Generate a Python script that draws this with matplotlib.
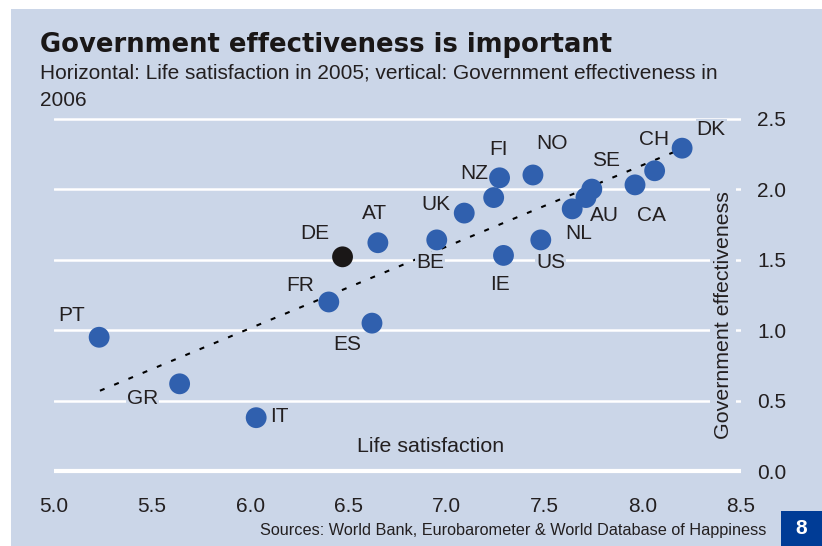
import matplotlib
matplotlib.use('Agg')
import matplotlib.pyplot as plt
from matplotlib.patches import Rectangle

# countries, life satisfaction 2005 (x) and govt effectiveness 2006 (y)
countries = ['PT', 'GR', 'IT', 'FR', 'ES', 'DE', 'AT', 'BE', 'UK', 'NZ',
             'FI', 'IE', 'NO', 'US', 'NL', 'AU', 'SE', 'CA', 'CH', 'DK']
life_sat = [5.23, 5.64, 6.03, 6.40, 6.62, 6.47, 6.65, 6.95, 7.09, 7.24,
            7.27, 7.29, 7.44, 7.48, 7.64, 7.71, 7.74, 7.96, 8.06, 8.20]
gov_eff = [0.95, 0.62, 0.38, 1.20, 1.05, 1.52, 1.62, 1.64, 1.83, 1.94,
           2.08, 1.53, 2.10, 1.64, 1.86, 1.94, 2.00, 2.03, 2.13, 2.29]
# label offsets in pixels (dx, dy)
offsets = [(-28, 22), (-37, -15), (23, 1), (-29, 16), (-25, -21), (-28, 23),
           (-3, 29), (-7, -23), (-28, 9), (-19, 24), (-1, 28), (-3, -29),
           (19, 31), (10, -23), (6, -25), (19, -18), (14, 29), (16, -31),
           (-1, 31), (29, 19)]
trend_x = [5.234, 8.18]
trend_y = [0.571, 2.275]
xticks = [5.0, 5.5, 6.0, 6.5, 7.0, 7.5, 8.0, 8.5]
yticks = [0.0, 0.5, 1.0, 1.5, 2.0, 2.5]

bg = '#cbd6e8'
blue = '#3060ae'
txt = '#231f20'
fs = 15
plt.rcParams['font.family'] = ['Liberation Sans', 'DejaVu Sans']

fig = plt.figure(figsize=(8.22, 5.46), dpi=100)
fig.patches.append(Rectangle((11 / 822, 0), 1, 1 - 9 / 546, transform=fig.transFigure,
                             facecolor=bg, edgecolor='none', zorder=-5))

# axes placed so that 5.0..8.5 spans px 54..741 and 0..2.5 spans px 471..118
ylo, yhi = -0.13, 2.7
ppu = 141.1
bot = (546 - (471.3 - ylo * ppu)) / 546
top = (546 - (471.3 - yhi * ppu)) / 546
ax = fig.add_axes([54 / 822, bot, 687 / 822, top - bot])
ax.set_zorder(1)
ax.set_facecolor('none')
ax.set_xlim(5.0, 8.5)
ax.set_ylim(ylo, yhi)
for s in ax.spines.values():
    s.set_visible(False)

for yt in yticks:
    ax.axhline(yt, color='white', lw=3 if yt == 0 else 1.8,
               solid_capstyle='round', zorder=1)

ax.plot(trend_x, trend_y, color='black', lw=1.5, linestyle=(0, (2.4, 5)), zorder=3)

colors = ['#1a1717' if c == 'DE' else blue for c in countries]
ax.scatter(life_sat, gov_eff, s=225, c=colors, edgecolors='none', zorder=4)

for c, x, y, (dx, dy) in zip(countries, life_sat, gov_eff, offsets):
    ax.annotate(c, (x, y), xytext=(dx * 0.72, dy * 0.72), textcoords='offset points',
                ha='center', va='center', fontsize=fs, color=txt, zorder=3.5,
                bbox=dict(boxstyle='square,pad=0.05', fc=bg, ec='none'))

ax.set_xticks(xticks)
ax.set_xticklabels([f'{v:.1f}' for v in xticks])
ax.set_yticks(yticks)
ax.set_yticklabels([f'{v:.1f}' for v in yticks])
ax.yaxis.tick_right()
ax.tick_params(axis='both', length=0, labelsize=fs, labelcolor=txt)
ax.tick_params(axis='x', pad=5)
ax.tick_params(axis='y', pad=11.5)
for lab in ax.get_yticklabels():
    lab.set_horizontalalignment('left')

ax.text(0.548, 1 - (446 - 90.3) / (top - bot) / 546, 'Life satisfaction',
        transform=ax.transAxes, ha='center', va='center', fontsize=15.4, color=txt)
ax.text((723 - 54) / 687, 1 - (315 - 90.3) / (top - bot) / 546, 'Government effectiveness',
        transform=ax.transAxes, ha='center', va='center', rotation=90, fontsize=15.4,
        color=txt, zorder=5, bbox=dict(boxstyle='square,pad=0.15', fc=bg, ec='none'))

fig.text(40 / 822, 1 - 45 / 546, 'Government effectiveness is important', ha='left',
         va='center', fontsize=18.6, fontweight='bold', color='#1a1717',
         family='DejaVu Sans')
fig.text(40 / 822, 1 - 73 / 546,
         'Horizontal: Life satisfaction in 2005; vertical: Government effectiveness in',
         ha='left', va='center', fontsize=15, color=txt)
fig.text(40 / 822, 1 - 101 / 546, '2006', ha='left', va='center', fontsize=15,
         color=txt)
fig.text(766 / 822, 1 - 531 / 546,
         'Sources: World Bank, Eurobarometer & World Database of Happiness',
         ha='right', va='center', fontsize=11.7, color=txt)

fig.patches.append(Rectangle((781 / 822, 0), 41 / 822, 35 / 546, transform=fig.transFigure,
                             facecolor='#003c96', edgecolor='none', zorder=-4))
fig.text(801 / 822, 1 - 529 / 546, '8', ha='center', va='center', fontsize=15,
         fontweight='bold', color='white')

fig.savefig('out.png', dpi=100)
